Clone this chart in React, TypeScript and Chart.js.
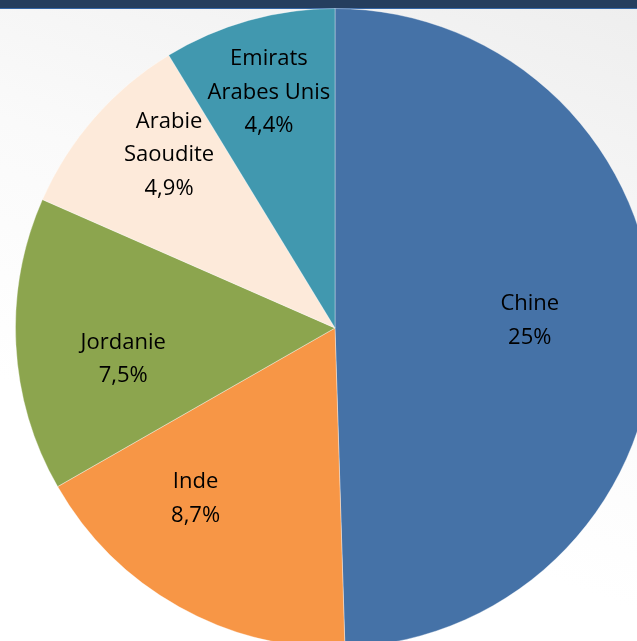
import React, { useEffect, useRef } from "react";
import { Chart, registerables } from "chart.js";

Chart.register(...registerables);

const categories = ["Chine", "Inde", "Jordanie", "Arabie Saoudite", "Emirats Arabes Unis"];
const labelLines = [["Chine"], ["Inde"], ["Jordanie"], ["Arabie", "Saoudite"], ["Emirats", "Arabes Unis"]];
const values = [25, 8.7, 7.5, 4.9, 4.4];
const valueLabels = ["25%", "8,7%", "7,5%", "4,9%", "4,4%"];
const colors = ["#4572A7", "#F79646", "#8CA54E", "#FDEADA", "#4198AF"];

// label placement: [angle offset in degrees, radius fraction]
const labelPlacement: [number, number][] = [
  [-1.3, 0.61],
  [10, 0.69],
  [-5.3, 0.67],
  [5, 0.75],
  [0, 0.765],
];

const labelPlugin = {
  id: "sliceLabels",
  afterDatasetsDraw(chart: any) {
    const ctx = chart.ctx;
    const meta = chart.getDatasetMeta(0);
    ctx.save();
    ctx.fillStyle = "#000";
    ctx.font = "22px 'Open Sans', sans-serif";
    ctx.textAlign = "center";
    ctx.textBaseline = "middle";
    const lh = 33.5;
    meta.data.forEach((arc: any, i: number) => {
      const p = arc.getProps(["x", "y", "startAngle", "endAngle", "outerRadius"], true);
      const [off, frac] = labelPlacement[i];
      const mid = (p.startAngle + p.endAngle) / 2 + (off * Math.PI) / 180;
      const r = p.outerRadius * frac;
      const cx = p.x + Math.cos(mid) * r;
      const cy = p.y + Math.sin(mid) * r;
      const lines = [...labelLines[i], valueLabels[i]];
      const startY = cy - ((lines.length - 1) * lh) / 2;
      lines.forEach((t, k) => ctx.fillText(t, cx, startY + k * lh));
    });
    ctx.restore();
  },
};

export default function App() {
  const ref = useRef<HTMLCanvasElement>(null);
  useEffect(() => {
    if (!ref.current) return;
    const chart = new Chart(ref.current, {
      type: "pie",
      data: {
        labels: categories,
        datasets: [
          {
            data: values,
            backgroundColor: colors,
            borderColor: "rgba(255,255,255,0.35)",
            borderWidth: 1,
          },
        ],
      },
      options: {
        responsive: false,
        animation: false,
        layout: { padding: 0 },
        plugins: {
          legend: { display: false },
          tooltip: { enabled: false },
        },
      },
      plugins: [labelPlugin],
    });
    return () => chart.destroy();
  }, []);

  return (
    <div
      style={{
        position: "fixed",
        left: 0,
        top: 0,
        width: 637,
        height: 641,
        overflow: "hidden",
        background: "linear-gradient(200deg, #eeeeee 0%, #fafafa 40%, #ffffff 70%)",
      }}
    >
      <div style={{ position: "absolute", left: 0, top: 0, width: 637, height: 8, background: "#253E5E" }} />
      <div style={{ position: "absolute", left: 0, top: 8, width: 637, height: 1, background: "#3465A4" }} />
      <canvas
        ref={ref}
        width={640}
        height={640}
        style={{ position: "absolute", left: 15, top: 8, width: 640, height: 640 }}
      />
    </div>
  );
}
